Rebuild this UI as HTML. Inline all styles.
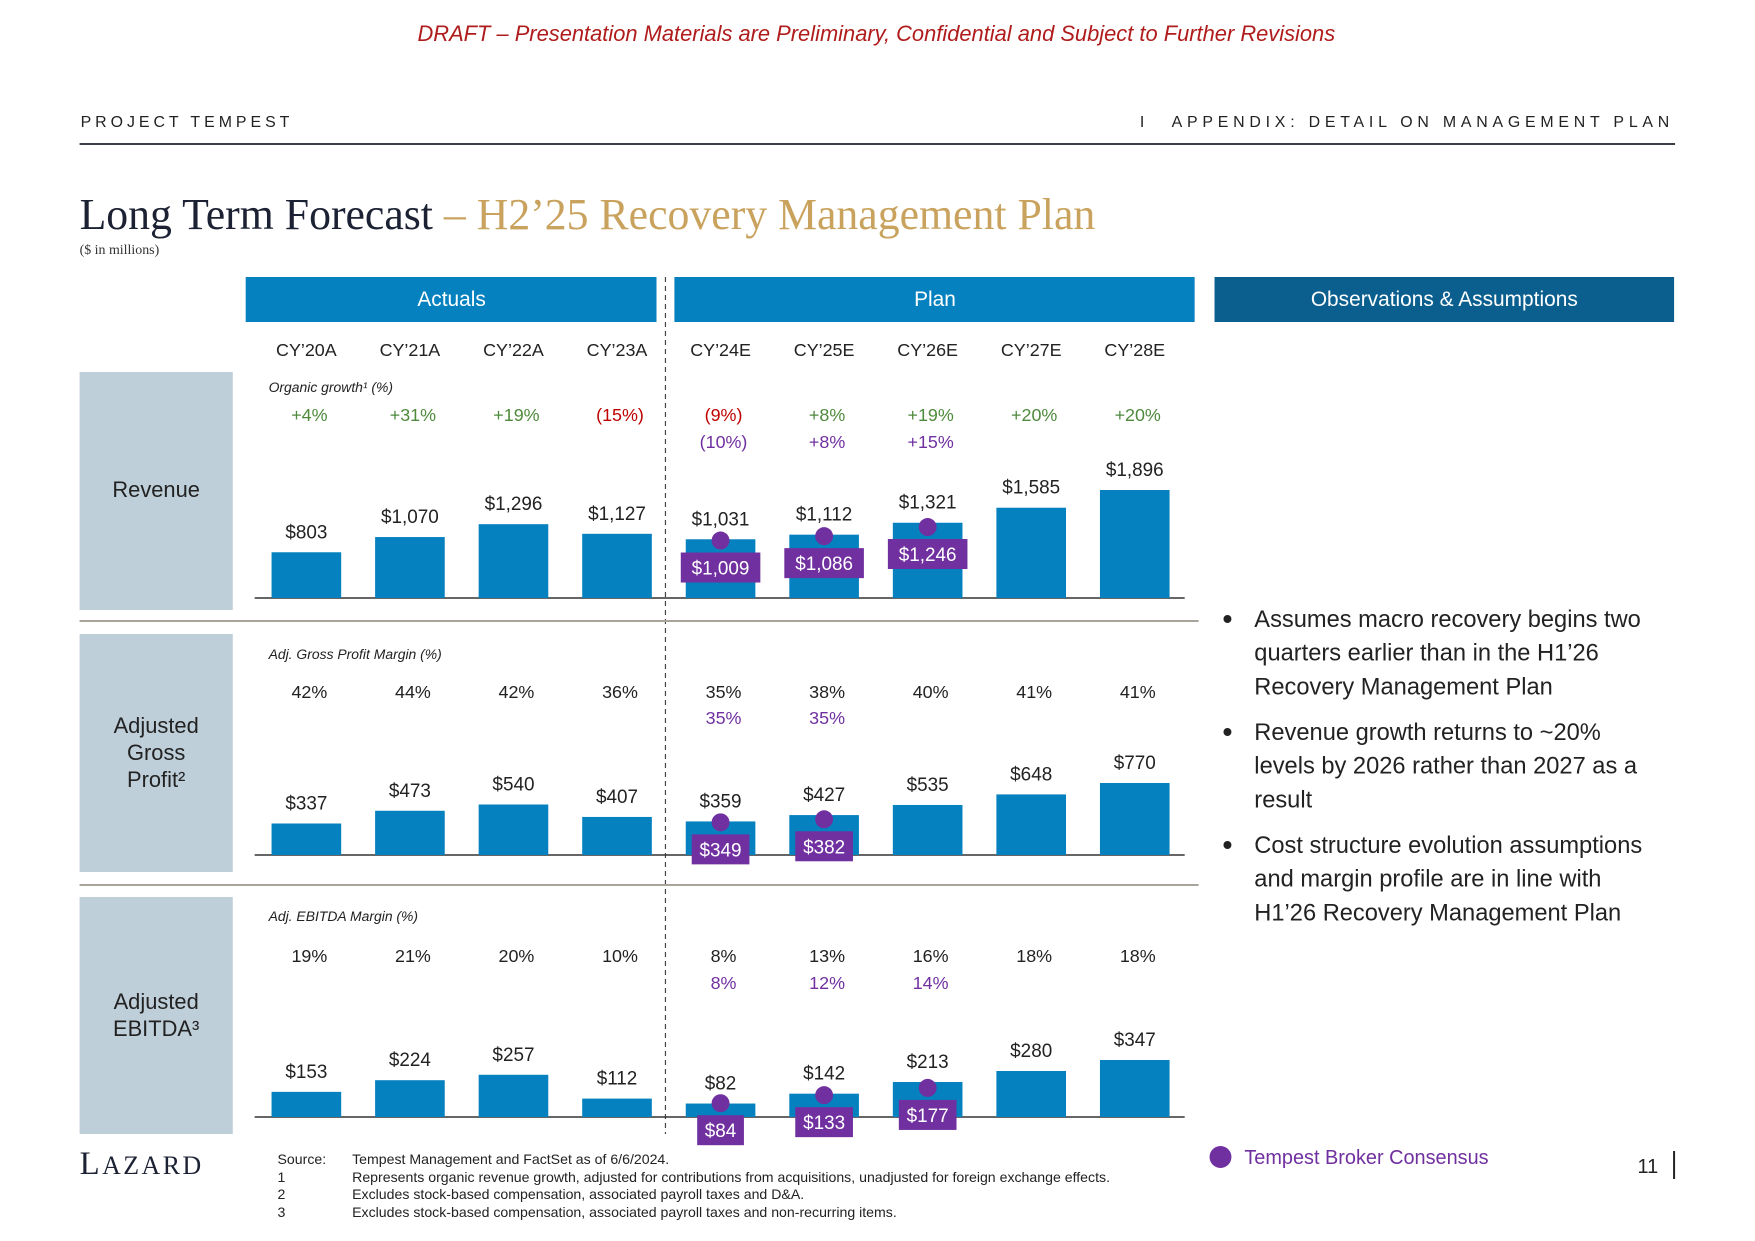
<!DOCTYPE html>
<html><head><meta charset="utf-8">
<style>
body{margin:0;background:#fff;}
svg{display:block;font-family:"Liberation Sans",sans-serif;}
</style></head>
<body>
<svg id="chart" width="1755" height="1241" viewBox="0 0 1755 1241" xmlns="http://www.w3.org/2000/svg">
<g transform="translate(0,-2) scale(0.9947,1)">
<text x="881" y="43" text-anchor="middle" font-size="22" font-style="italic" fill="#b01c1c">DRAFT – Presentation Materials are Preliminary, Confidential and Subject to Further Revisions</text>
<text x="81" y="129" font-size="16" letter-spacing="4" fill="#222">PROJECT TEMPEST</text>
<text x="1146" y="129" font-size="16" fill="#222">I</text>
<text x="1683" y="129" text-anchor="end" font-size="16" letter-spacing="4.8" fill="#222">APPENDIX: DETAIL ON MANAGEMENT PLAN</text>
<rect x="80" y="145" width="1604" height="2" fill="#3a3f4a"/>
<text x="80" y="231" font-family="Liberation Serif,serif" font-size="44" fill="#1c2233">Long Term Forecast <tspan fill="#c9a35e">– H2’25 Recovery Management Plan</tspan></text>
<text x="80" y="256" font-family="Liberation Serif,serif" font-size="14" fill="#333">($ in millions)</text>

<rect x="247" y="279" width="413" height="45" fill="#0681bf"/>
<text x="454" y="308" text-anchor="middle" font-size="21" fill="#fff">Actuals</text>
<rect x="678" y="279" width="523" height="45" fill="#0681bf"/>
<text x="940" y="308" text-anchor="middle" font-size="21" fill="#fff">Plan</text>
<rect x="1221" y="279" width="462" height="45" fill="#0b5f8e"/>
<text x="1452" y="308" text-anchor="middle" font-size="21" fill="#fff">Observations &amp; Assumptions</text>
<line x1="669" y1="279" x2="669" y2="1136" stroke="#444" stroke-width="1.2" stroke-dasharray="5,4"/>

<rect x="80" y="374" width="154" height="238" fill="#bfcfda"/>
<text x="157" y="499" text-anchor="middle" font-size="22" fill="#222">Revenue</text>
<rect x="80" y="636" width="154" height="238" fill="#bfcfda"/>
<text x="157" y="735" text-anchor="middle" font-size="22" fill="#222"><tspan x="157">Adjusted</tspan><tspan x="157" dy="27">Gross</tspan><tspan x="157" dy="27">Profit²</tspan></text>
<rect x="80" y="899" width="154" height="237" fill="#bfcfda"/>
<text x="157" y="1011" text-anchor="middle" font-size="22" fill="#222"><tspan x="157">Adjusted</tspan><tspan x="157" dy="27">EBITDA³</tspan></text>
<rect x="80" y="622" width="1125" height="2" fill="#a8a39b"/>
<rect x="80" y="886" width="1125" height="2" fill="#a8a39b"/>

<text x="270" y="394" font-size="14" font-style="italic" fill="#222">Organic growth¹ (%)</text>
<text x="270" y="661" font-size="14" font-style="italic" fill="#222">Adj. Gross Profit Margin (%)</text>
<text x="270" y="923" font-size="14" font-style="italic" fill="#222">Adj. EBITDA Margin (%)</text>

<g id="marks"></g>

<g font-size="23.8" fill="#222">
<circle cx="1234" cy="621" r="4" fill="#222"/>
<text x="1261" y="629"><tspan x="1261">Assumes macro recovery begins two</tspan><tspan x="1261" dy="33.7">quarters earlier than in the H1’26</tspan><tspan x="1261" dy="33.7">Recovery Management Plan</tspan></text>
<circle cx="1234" cy="734" r="4" fill="#222"/>
<text x="1261" y="742"><tspan x="1261">Revenue growth returns to ~20%</tspan><tspan x="1261" dy="33.7">levels by 2026 rather than 2027 as a</tspan><tspan x="1261" dy="33.7">result</tspan></text>
<circle cx="1234" cy="847" r="4" fill="#222"/>
<text x="1261" y="855"><tspan x="1261">Cost structure evolution assumptions</tspan><tspan x="1261" dy="33.7">and margin profile are in line with</tspan><tspan x="1261" dy="33.7">H1’26 Recovery Management Plan</tspan></text>
</g>

<circle cx="1227" cy="1159" r="11" fill="#7030a0"/>
<text x="1251" y="1166" font-size="20" fill="#7030a0">Tempest Broker Consensus</text>
<text x="1667" y="1175" text-anchor="end" font-size="20" fill="#222">11</text>
<rect x="1682" y="1153" width="2" height="28" fill="#222"/>
<text x="80" y="1176" font-family="Liberation Serif,serif" font-size="33" letter-spacing="2.5" fill="#1c2233">L<tspan font-size="26">AZARD</tspan></text>
<g font-size="14.2" fill="#222">
<text x="279" y="1166">Source:</text>
<text x="354" y="1166">Tempest Management and FactSet as of 6/6/2024.</text>
<text x="279" y="1184">1</text>
<text x="354" y="1184">Represents organic revenue growth, adjusted for contributions from acquisitions, unadjusted for foreign exchange effects.</text>
<text x="279" y="1201">2</text>
<text x="354" y="1201">Excludes stock-based compensation, associated payroll taxes and D&amp;A.</text>
<text x="279" y="1219">3</text>
<text x="354" y="1219">Excludes stock-based compensation, associated payroll taxes and non-recurring items.</text>
</g>
</g>
</svg>
<script>
const years = ["CY’20A","CY’21A","CY’22A","CY’23A","CY’24E","CY’25E","CY’26E","CY’27E","CY’28E"];
const revenue = [803,1070,1296,1127,1031,1112,1321,1585,1896];
const revenueConsensus = [null,null,null,null,1009,1086,1246,null,null];
const growth = ["+4%","+31%","+19%","(15%)","(9%)","+8%","+19%","+20%","+20%"];
const growthConsensus = [null,null,null,null,"(10%)","+8%","+15%",null,null];
const grossProfit = [337,473,540,407,359,427,535,648,770];
const gpConsensus = [null,null,null,null,349,382,null,null,null];
const gpMargin = ["42%","44%","42%","36%","35%","38%","40%","41%","41%"];
const gpMarginConsensus = [null,null,null,null,"35%","35%",null,null,null];
const ebitda = [153,224,257,112,82,142,213,280,347];
const ebitdaConsensus = [null,null,null,null,84,133,177,null,null];
const ebitdaMargin = ["19%","21%","20%","10%","8%","13%","16%","18%","18%"];
const ebitdaMarginConsensus = [null,null,null,null,"8%","12%","14%",null,null];

const NS="http://www.w3.org/2000/svg";
const g=document.getElementById('marks');
function xc(i){return 308+i*104.1;}
function mk(tag,attrs,txt){const e=document.createElementNS(NS,tag);for(const k in attrs)e.setAttribute(k,attrs[k]);if(txt!=null)e.textContent=txt;g.appendChild(e);return e;}
function fmt(v){return "$"+v.toLocaleString("en-US");}

years.forEach((y,i)=>{
  const t=mk('text',{x:xc(i),y:358,'text-anchor':'middle','font-size':18,fill:'#222'},y);
  
  
});

const panels=[
  {key:'revenue',vals:revenue,cons:revenueConsensus,base:600,scale:108/1896,pct:growth,pctC:growthConsensus,pctY:423,pctCY:450},
  {key:'gross-profit',vals:grossProfit,cons:gpConsensus,base:857,scale:72/770,pct:gpMargin,pctC:gpMarginConsensus,pctY:700,pctCY:726},
  {key:'ebitda',vals:ebitda,cons:ebitdaConsensus,base:1119,scale:57/347,pct:ebitdaMargin,pctC:ebitdaMarginConsensus,pctY:964,pctCY:991}
];
panels.forEach(p=>{
  const bl=mk('line',{x1:256,x2:1191,y1:p.base,y2:p.base,stroke:'#333','stroke-width':1.5});
  
  
  p.vals.forEach((v,i)=>{
    const h=v*p.scale, x=xc(i);
    const r=mk('rect',{x:x-35,y:p.base-h,width:70,height:h,fill:'#0681bf'});
    
    
    const t=mk('text',{x:x,y:p.base-h-14,'text-anchor':'middle','font-size':19,fill:'#222'},fmt(v));
    
    
    const pc=p.pct[i];
    const col=pc.startsWith('(')?'#c00000':(p.key==='revenue'?'#4e8a3c':'#222');
    const pt=mk('text',{x:x+3,y:p.pctY,'text-anchor':'middle','font-size':18,fill:col},pc);
    
    
    if(p.pctC[i]){
      const pt2=mk('text',{x:x+3,y:p.pctCY,'text-anchor':'middle','font-size':18,fill:'#7030a0'},p.pctC[i]);
      
      
    }
    const c=p.cons[i];
    if(c!=null){
      const cy=p.base-c*p.scale;
      const lbl=fmt(c), w=lbl.length*11+14;
      const bx=mk('rect',{x:x-w/2,y:cy+12,width:w,height:30,fill:'#7030a0'});
      
      
      const ct=mk('text',{x:x,y:cy+34,'text-anchor':'middle','font-size':19,fill:'#fff'},lbl);
      
      
      const dot=mk('circle',{cx:x,cy:cy,r:9,fill:'#7030a0'});
      
      
    }
  });
});
</script>
</body></html>
